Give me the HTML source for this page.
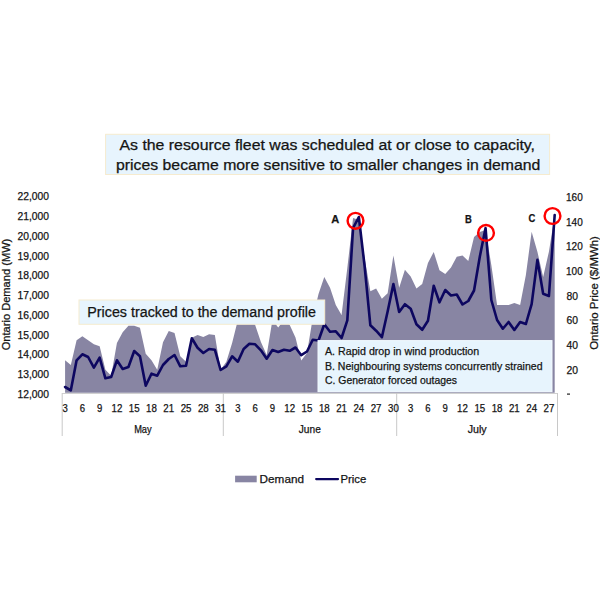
<!DOCTYPE html>
<html><head><meta charset="utf-8"><style>
html,body{margin:0;padding:0;background:#fff;width:600px;height:600px;overflow:hidden}
svg{display:block}
text{font-family:"Liberation Sans", sans-serif;fill:#141414;stroke:#141414;stroke-width:0.25px}
</style></head><body>
<svg width="600" height="600" viewBox="0 0 600 600">
<rect x="0" y="0" width="600" height="600" fill="#ffffff"/>
<polygon points="65.08,392.8 65.08,360.30 70.84,365.00 76.60,340.30 82.36,336.30 88.12,340.30 93.88,344.30 99.64,346.30 105.40,369.70 111.16,375.70 116.92,343.00 122.68,332.30 128.44,325.70 134.20,325.70 139.96,327.70 145.72,353.70 151.48,360.30 157.24,369.70 163.00,342.30 168.76,331.00 174.52,333.00 180.28,356.30 186.04,361.70 191.80,337.70 197.56,335.00 203.32,337.00 209.08,334.30 214.84,335.00 220.60,369.70 226.36,361.70 232.12,343.00 237.88,320.00 243.64,318.00 249.40,318.00 255.16,325.00 260.92,342.00 266.68,355.00 272.44,320.00 278.20,327.50 283.96,320.00 289.72,325.00 295.48,337.50 301.24,360.50 307.00,353.00 312.76,318.00 318.52,294.00 324.28,277.00 330.04,287.70 335.80,305.00 341.56,315.00 347.32,268.00 353.08,218.00 358.84,220.00 364.60,258.00 370.36,291.30 376.12,288.60 381.88,298.70 387.64,293.20 393.40,255.60 399.16,287.70 404.92,269.80 410.68,276.60 416.44,288.60 422.20,284.00 427.96,263.00 433.72,251.90 439.48,270.30 445.24,273.90 451.00,267.50 456.76,256.70 462.52,255.50 468.28,261.00 474.04,237.00 479.80,232.00 485.56,230.00 491.32,265.00 497.08,305.00 502.84,305.00 508.60,305.00 514.36,303.00 520.12,305.00 525.88,275.00 531.64,231.80 537.40,251.70 543.16,277.00 548.92,251.70 554.68,215.50 554.68,392.8" fill="#8885a3"/>
<polyline points="65.08,387.00 70.84,390.30 76.60,360.30 82.36,354.30 88.12,357.00 93.88,367.70 99.64,357.70 105.40,378.30 111.16,377.00 116.92,360.30 122.68,369.00 128.44,367.00 134.20,351.00 139.96,356.30 145.72,385.70 151.48,373.70 157.24,375.70 163.00,365.00 168.76,359.00 174.52,355.00 180.28,366.30 186.04,365.70 191.80,338.30 197.56,347.70 203.32,353.00 209.08,349.00 214.84,349.70 220.60,370.00 226.36,366.30 232.12,356.30 237.88,361.70 243.64,349.00 249.40,343.70 255.16,344.30 260.92,350.30 266.68,358.70 272.44,350.00 278.20,352.00 283.96,349.80 289.72,350.80 295.48,347.50 301.24,355.20 307.00,351.50 312.76,339.80 318.52,340.50 324.28,324.30 330.04,331.70 335.80,331.30 341.56,338.00 347.32,320.30 353.08,228.00 358.84,217.00 364.60,266.00 370.36,325.30 376.12,330.70 381.88,337.20 387.64,311.50 393.40,284.00 399.16,312.00 404.92,304.20 410.68,308.80 416.44,324.30 422.20,329.80 427.96,320.70 433.72,285.80 439.48,302.30 445.24,290.00 451.00,295.50 456.76,294.50 462.52,304.50 468.28,301.00 474.04,290.50 479.80,256.70 485.56,228.00 491.32,300.00 497.08,320.00 502.84,328.75 508.60,322.00 514.36,330.00 520.12,322.00 525.88,324.00 531.64,304.20 537.40,259.80 543.16,293.70 548.92,296.00 554.68,215.00" fill="none" stroke="#0d0760" stroke-width="2.6" stroke-linejoin="round" stroke-linecap="round"/>
<line x1="62.2" y1="393.5" x2="557.5" y2="393.5" stroke="#d0d0d0" stroke-width="1"/>
<line x1="62.2" y1="393" x2="62.2" y2="436" stroke="#c8c8c8" stroke-width="1"/>
<line x1="223.3" y1="393" x2="223.3" y2="436" stroke="#c8c8c8" stroke-width="1"/>
<line x1="396.7" y1="393" x2="396.7" y2="436" stroke="#c8c8c8" stroke-width="1"/>
<line x1="557.5" y1="393" x2="557.5" y2="436" stroke="#c8c8c8" stroke-width="1"/>
<text x="49" y="200.3" text-anchor="end" font-size="10.5" textLength="31.5" lengthAdjust="spacingAndGlyphs">22,000</text>
<text x="49" y="220.0" text-anchor="end" font-size="10.5" textLength="31.5" lengthAdjust="spacingAndGlyphs">21,000</text>
<text x="49" y="239.8" text-anchor="end" font-size="10.5" textLength="31.5" lengthAdjust="spacingAndGlyphs">20,000</text>
<text x="49" y="259.5" text-anchor="end" font-size="10.5" textLength="31.5" lengthAdjust="spacingAndGlyphs">19,000</text>
<text x="49" y="279.3" text-anchor="end" font-size="10.5" textLength="31.5" lengthAdjust="spacingAndGlyphs">18,000</text>
<text x="49" y="299.0" text-anchor="end" font-size="10.5" textLength="31.5" lengthAdjust="spacingAndGlyphs">17,000</text>
<text x="49" y="318.7" text-anchor="end" font-size="10.5" textLength="31.5" lengthAdjust="spacingAndGlyphs">16,000</text>
<text x="49" y="338.5" text-anchor="end" font-size="10.5" textLength="31.5" lengthAdjust="spacingAndGlyphs">15,000</text>
<text x="49" y="358.2" text-anchor="end" font-size="10.5" textLength="31.5" lengthAdjust="spacingAndGlyphs">14,000</text>
<text x="49" y="378.0" text-anchor="end" font-size="10.5" textLength="31.5" lengthAdjust="spacingAndGlyphs">13,000</text>
<text x="49" y="397.7" text-anchor="end" font-size="10.5" textLength="31.5" lengthAdjust="spacingAndGlyphs">12,000</text>
<text x="566" y="201.0" font-size="10.5" textLength="16.7" lengthAdjust="spacingAndGlyphs">160</text>
<text x="566" y="225.7" font-size="10.5" textLength="16.7" lengthAdjust="spacingAndGlyphs">140</text>
<text x="566" y="250.3" font-size="10.5" textLength="16.7" lengthAdjust="spacingAndGlyphs">120</text>
<text x="566" y="275.0" font-size="10.5" textLength="16.7" lengthAdjust="spacingAndGlyphs">100</text>
<text x="566.5" y="299.7" font-size="10.5" textLength="11.5" lengthAdjust="spacingAndGlyphs">80</text>
<text x="566.5" y="324.4" font-size="10.5" textLength="11.5" lengthAdjust="spacingAndGlyphs">60</text>
<text x="566.5" y="349.1" font-size="10.5" textLength="11.5" lengthAdjust="spacingAndGlyphs">40</text>
<text x="566.5" y="373.7" font-size="10.5" textLength="11.5" lengthAdjust="spacingAndGlyphs">20</text>
<rect x="567" y="393.5" width="3" height="1.2" fill="#222"/>
<text x="65.08" y="411.7" text-anchor="middle" font-size="10.5" textLength="5.3" lengthAdjust="spacingAndGlyphs">3</text>
<text x="82.36" y="411.7" text-anchor="middle" font-size="10.5" textLength="5.3" lengthAdjust="spacingAndGlyphs">6</text>
<text x="99.64" y="411.7" text-anchor="middle" font-size="10.5" textLength="5.3" lengthAdjust="spacingAndGlyphs">9</text>
<text x="116.92" y="411.7" text-anchor="middle" font-size="10.5" textLength="10.8" lengthAdjust="spacingAndGlyphs">12</text>
<text x="134.20" y="411.7" text-anchor="middle" font-size="10.5" textLength="10.8" lengthAdjust="spacingAndGlyphs">15</text>
<text x="151.48" y="411.7" text-anchor="middle" font-size="10.5" textLength="10.8" lengthAdjust="spacingAndGlyphs">18</text>
<text x="168.76" y="411.7" text-anchor="middle" font-size="10.5" textLength="10.8" lengthAdjust="spacingAndGlyphs">21</text>
<text x="186.04" y="411.7" text-anchor="middle" font-size="10.5" textLength="10.8" lengthAdjust="spacingAndGlyphs">25</text>
<text x="203.32" y="411.7" text-anchor="middle" font-size="10.5" textLength="10.8" lengthAdjust="spacingAndGlyphs">28</text>
<text x="220.60" y="411.7" text-anchor="middle" font-size="10.5" textLength="10.8" lengthAdjust="spacingAndGlyphs">31</text>
<text x="237.88" y="411.7" text-anchor="middle" font-size="10.5" textLength="5.3" lengthAdjust="spacingAndGlyphs">3</text>
<text x="255.16" y="411.7" text-anchor="middle" font-size="10.5" textLength="5.3" lengthAdjust="spacingAndGlyphs">6</text>
<text x="272.44" y="411.7" text-anchor="middle" font-size="10.5" textLength="5.3" lengthAdjust="spacingAndGlyphs">9</text>
<text x="289.72" y="411.7" text-anchor="middle" font-size="10.5" textLength="10.8" lengthAdjust="spacingAndGlyphs">12</text>
<text x="307.00" y="411.7" text-anchor="middle" font-size="10.5" textLength="10.8" lengthAdjust="spacingAndGlyphs">15</text>
<text x="324.28" y="411.7" text-anchor="middle" font-size="10.5" textLength="10.8" lengthAdjust="spacingAndGlyphs">18</text>
<text x="341.56" y="411.7" text-anchor="middle" font-size="10.5" textLength="10.8" lengthAdjust="spacingAndGlyphs">21</text>
<text x="358.84" y="411.7" text-anchor="middle" font-size="10.5" textLength="10.8" lengthAdjust="spacingAndGlyphs">24</text>
<text x="376.12" y="411.7" text-anchor="middle" font-size="10.5" textLength="10.8" lengthAdjust="spacingAndGlyphs">27</text>
<text x="393.40" y="411.7" text-anchor="middle" font-size="10.5" textLength="10.8" lengthAdjust="spacingAndGlyphs">30</text>
<text x="410.68" y="411.7" text-anchor="middle" font-size="10.5" textLength="5.3" lengthAdjust="spacingAndGlyphs">3</text>
<text x="427.96" y="411.7" text-anchor="middle" font-size="10.5" textLength="5.3" lengthAdjust="spacingAndGlyphs">6</text>
<text x="445.24" y="411.7" text-anchor="middle" font-size="10.5" textLength="5.3" lengthAdjust="spacingAndGlyphs">9</text>
<text x="462.52" y="411.7" text-anchor="middle" font-size="10.5" textLength="10.8" lengthAdjust="spacingAndGlyphs">12</text>
<text x="479.80" y="411.7" text-anchor="middle" font-size="10.5" textLength="10.8" lengthAdjust="spacingAndGlyphs">15</text>
<text x="497.08" y="411.7" text-anchor="middle" font-size="10.5" textLength="10.8" lengthAdjust="spacingAndGlyphs">18</text>
<text x="514.36" y="411.7" text-anchor="middle" font-size="10.5" textLength="10.8" lengthAdjust="spacingAndGlyphs">21</text>
<text x="531.64" y="411.7" text-anchor="middle" font-size="10.5" textLength="10.8" lengthAdjust="spacingAndGlyphs">24</text>
<text x="548.92" y="411.7" text-anchor="middle" font-size="10.5" textLength="10.8" lengthAdjust="spacingAndGlyphs">27</text>
<text x="142.9" y="432.5" text-anchor="middle" font-size="10.5" textLength="17.5" lengthAdjust="spacingAndGlyphs">May</text>
<text x="309.8" y="432.5" text-anchor="middle" font-size="10.5" textLength="22" lengthAdjust="spacingAndGlyphs">June</text>
<text x="477.2" y="432.5" text-anchor="middle" font-size="10.5" textLength="19" lengthAdjust="spacingAndGlyphs">July</text>
<text transform="translate(9.8,294.5) rotate(-90)" text-anchor="middle" font-size="10.5" textLength="111.6" lengthAdjust="spacingAndGlyphs">Ontario Demand (MW)</text>
<text transform="translate(597.5,293) rotate(-90)" text-anchor="middle" font-size="10.5" textLength="113.7" lengthAdjust="spacingAndGlyphs">Ontario Price ($/MWh)</text>
<rect x="105.6" y="134.3" width="444" height="40.2" fill="#e7f4fd" stroke="#f6ebcf" stroke-width="1"/>
<text x="119.5" y="149.6" font-size="14" textLength="415.5" lengthAdjust="spacingAndGlyphs">As the resource fleet was scheduled at or close to capacity,</text>
<text x="116" y="169.6" font-size="14" textLength="424.3" lengthAdjust="spacingAndGlyphs">prices became more sensitive to smaller changes in demand</text>
<rect x="79" y="300" width="245.7" height="24.3" fill="#e7f4fd" stroke="#f6ebcf" stroke-width="1"/>
<text x="87.3" y="317.3" font-size="14" textLength="228.7" lengthAdjust="spacingAndGlyphs">Prices tracked to the demand profile</text>
<rect x="318" y="340.6" width="234" height="51" fill="#e7f4fd" stroke="#f2faff" stroke-width="1"/>
<text x="325" y="355.25" font-size="10.5" textLength="154.2" lengthAdjust="spacingAndGlyphs">A.  Rapid drop in wind production</text>
<text x="325" y="369.5" font-size="10.5" textLength="217.5" lengthAdjust="spacingAndGlyphs">B.  Neighbouring systems concurrently strained</text>
<text x="325" y="383.75" font-size="10.5" textLength="132" lengthAdjust="spacingAndGlyphs">C.  Generator forced outages</text>
<circle cx="355.5" cy="220.8" r="7.9" fill="none" stroke="#ff0000" stroke-width="2.4"/>
<circle cx="486" cy="232.9" r="7.9" fill="none" stroke="#ff0000" stroke-width="2.4"/>
<circle cx="552.5" cy="216" r="7.9" fill="none" stroke="#ff0000" stroke-width="2.4"/>
<text x="331.3" y="222.7" font-size="11.5" font-weight="bold" textLength="8" lengthAdjust="spacingAndGlyphs">A</text>
<text x="465" y="222.9" font-size="11.5" font-weight="bold" textLength="6.8" lengthAdjust="spacingAndGlyphs">B</text>
<text x="528.5" y="221.8" font-size="11.5" font-weight="bold" textLength="6.8" lengthAdjust="spacingAndGlyphs">C</text>
<rect x="235.1" y="475.7" width="21.6" height="6.6" fill="#8885a3"/>
<text x="259.6" y="482.6" font-size="11.5" textLength="44.4" lengthAdjust="spacingAndGlyphs">Demand</text>
<line x1="316.2" y1="479.1" x2="338" y2="479.1" stroke="#0d0760" stroke-width="2.3" stroke-linecap="round"/>
<text x="340.5" y="482.6" font-size="11.5" textLength="25.8" lengthAdjust="spacingAndGlyphs">Price</text>
</svg>
</body></html>
